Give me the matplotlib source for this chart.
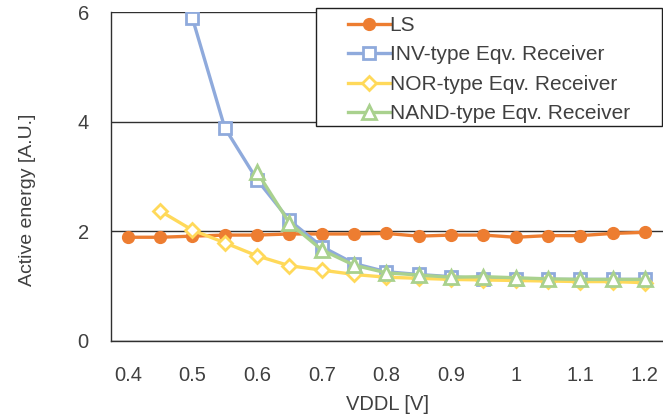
import numpy as np
import matplotlib
matplotlib.use('Agg')
import matplotlib.pyplot as plt
from matplotlib.patches import Rectangle

plt.rcParams['font.family'] = ['Liberation Sans', 'DejaVu Sans']

vddl = [0.4, 0.45, 0.5, 0.55, 0.6, 0.65, 0.7, 0.75, 0.8, 0.85,
        0.9, 0.95, 1.0, 1.05, 1.1, 1.15, 1.2]
ls = [1.89, 1.89, 1.91, 1.93, 1.93, 1.95, 1.95, 1.95, 1.96, 1.91,
      1.93, 1.93, 1.89, 1.92, 1.92, 1.96, 1.98]
inv = [None, None, 5.89, 3.89, 2.94, 2.20, 1.72, 1.41, 1.26, 1.21,
       1.17, 1.13, 1.13, 1.12, 1.12, 1.12, 1.12]
nor = [None, 2.37, 2.02, 1.79, 1.55, 1.37, 1.29, 1.21, 1.16, 1.14,
       1.12, 1.11, 1.10, 1.09, 1.08, 1.08, 1.06]
nand = [None, None, None, None, 3.08, 2.15, 1.66, 1.38, 1.24, 1.20,
        1.16, 1.17, 1.15, 1.13, 1.12, 1.12, 1.12]
names = ['LS', 'INV-type Eqv. Receiver', 'NOR-type Eqv. Receiver',
         'NAND-type Eqv. Receiver']
xticks = [0.4, 0.5, 0.6, 0.7, 0.8, 0.9, 1.0, 1.1, 1.2]
xtick_labels = ['0.4', '0.5', '0.6', '0.7', '0.8', '0.9', '1', '1.1', '1.2']

W, H = 663, 416
fig = plt.figure(figsize=(W/100, H/100), dpi=100)
ax = fig.add_axes([111/W, 75.3/H, 1 - 111/W, (340.7 - 12.3)/H])

x = np.array(vddl)
ax.plot(x, np.array(ls, dtype=float), color='#ED7D31', lw=2.4, marker='o',
        ms=8.5, mfc='#ED7D31', mec='#ED7D31', label=names[0], zorder=3)
ax.plot(x, np.array(inv, dtype=float), color='#8FAADC', lw=2.4, marker='s',
        ms=8.5, mfc='white', mec='#8FAADC', mew=2, label=names[1], zorder=4)
ax.plot(x, np.array(nor, dtype=float), color='#FFD95A', lw=2.4, marker='D',
        ms=7.5, mfc='white', mec='#FFD95A', mew=2, label=names[2], zorder=5)
ax.plot(x, np.array(nand, dtype=float), color='#A9D18E', lw=2.4, marker='^',
        ms=10, mfc='white', mec='#A9D18E', mew=2, label=names[3], zorder=6)

ax.set_xlim(0.374, 1.228)
ax.set_ylim(0, 6)
ax.set_yticks([0, 2, 4, 6])
ax.set_xticks(xticks)
ax.set_xticklabels(xtick_labels)
ax.tick_params(length=0, labelsize=14.5, colors='#404040')
ax.tick_params(axis='y', pad=16)
ax.tick_params(axis='x', pad=18)
ax.yaxis.grid(True, color='#303030', lw=1.0)
ax.set_axisbelow(True)
for s in ['top', 'right']:
    ax.spines[s].set_visible(False)
for s in ['left', 'bottom']:
    ax.spines[s].set_color('#303030')
    ax.spines[s].set_linewidth(1.0)

ax.set_xlabel('VDDL [V]', fontsize=14.5, color='#404040', va='center')
ax.xaxis.set_label_coords(0.5, (340.7 - 404) / 328.4)
ax.set_ylabel('Active energy [A.U.]', fontsize=14, color='#404040')
ax.yaxis.set_label_coords((36 - 111) / 552, (340.7 - 200) / 328.4)

# legend box drawn separately so the padding matches
box = Rectangle((316/W, 1 - 126/H), (662 - 316)/W, (126 - 8)/H,
                transform=fig.transFigure, facecolor='white',
                edgecolor='#202020', lw=1.0, clip_on=False, zorder=9)
ax.add_artist(box)
leg = ax.legend(loc='upper left', bbox_to_anchor=(348/W, 1 - 16/H),
                bbox_transform=fig.transFigure, fontsize=15, frameon=False,
                handlelength=2.0, labelspacing=0.5, borderpad=0,
                handletextpad=0.0, borderaxespad=0)
leg.set_zorder(10)
for t in leg.get_texts():
    t.set_color('#404040')

fig.savefig('out.png', dpi=100)
